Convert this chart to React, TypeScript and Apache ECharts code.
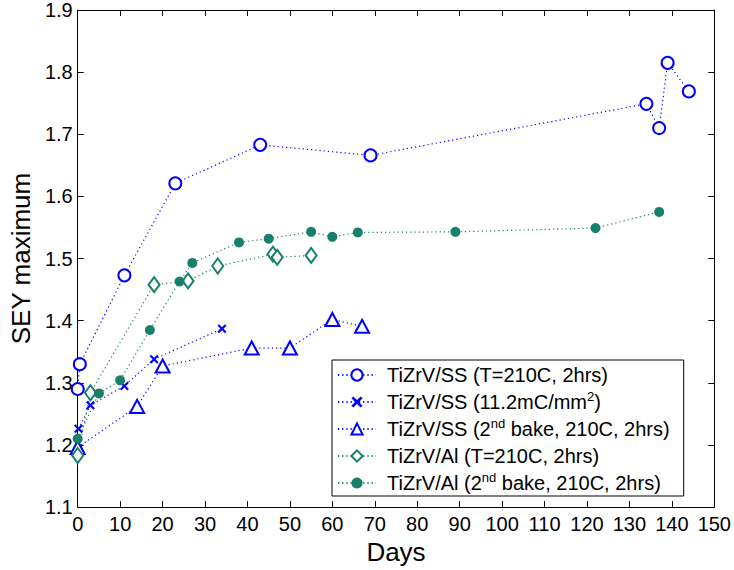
import React, { useEffect, useRef } from "react";
import * as echarts from "echarts";

// ---- data ----
const names = [
  "TiZrV/SS (T=210C, 2hrs)",
  "TiZrV/SS (11.2mC/mm2)",
  "TiZrV/SS (2nd bake, 210C, 2hrs)",
  "TiZrV/Al (T=210C, 2hrs)",
  "TiZrV/Al (2nd bake, 210C, 2hrs)",
];
const days1 = [0, 0.5, 11, 23, 43, 69, 134, 137, 139, 144];
const sey1 = [1.29, 1.33, 1.473, 1.621, 1.683, 1.666, 1.749, 1.71, 1.815, 1.769];
const days2 = [0.2, 3, 11, 18, 34];
const sey2 = [1.226, 1.264, 1.295, 1.338, 1.387];
const days3 = [0, 14, 20, 41, 50, 60, 67];
const sey3 = [1.196, 1.262, 1.327, 1.356, 1.356, 1.402, 1.391];
const days4 = [0, 3, 18, 26, 33, 46, 47, 55];
const sey4 = [1.183, 1.284, 1.458, 1.464, 1.488, 1.507, 1.502, 1.505];
const days5 = [0, 5, 10, 17, 24, 27, 38, 45, 55, 60, 66, 89, 122, 137];
const sey5 = [1.21, 1.283, 1.304, 1.385, 1.463, 1.493, 1.526, 1.532, 1.543, 1.535, 1.542, 1.543, 1.549, 1.575];

const BLUE = "#0000ff";
const GREEN = "#17806a";
const FONT = "'Liberation Sans', Arial, Helvetica, sans-serif";
const X_PATH =
  "path://M0,1.7 L1.7,0 L5,3.3 L8.3,0 L10,1.7 L6.7,5 L10,8.3 L8.3,10 L5,6.7 L1.7,10 L0,8.3 L3.3,5 Z";

const pairs = (xs: number[], ys: number[]) => xs.map((x, i) => [x, ys[i]]);

export default function App() {
  const ref = useRef<HTMLDivElement>(null);
  useEffect(() => {
    if (!ref.current) return;
    const chart = echarts.init(ref.current, null, { renderer: "svg" });
    const lineBase = (color: string) => ({
      type: "line" as const,
      lineStyle: { color, width: 1.2, type: [1.2, 3] as any },
      z: 2,
    });
    const axisCommon = {
      axisLine: { show: true, onZero: false, lineStyle: { color: "#000", width: 1 } },
      axisTick: { show: true, inside: true, length: 6, lineStyle: { color: "#000" } },
      splitLine: { show: false },
    };
    chart.setOption({
      animation: false,
      backgroundColor: "#fff",
      grid: { left: 76, right: 16, top: 10, bottom: 54, containLabel: false },
      xAxis: [
        {
          type: "value",
          min: 0,
          max: 150,
          interval: 10,
          position: "bottom",
          name: "Days",
          nameLocation: "middle",
          nameGap: 25,
          nameTextStyle: { fontSize: 26, color: "#000", fontFamily: FONT },
          axisLabel: { fontSize: 20, color: "#000", margin: 7, fontFamily: FONT },
          ...axisCommon,
        },
        {
          type: "value",
          min: 0,
          max: 150,
          interval: 10,
          position: "top",
          axisLabel: { show: false },
          ...axisCommon,
        },
      ],
      yAxis: [
        {
          type: "value",
          min: 1.1,
          max: 1.9,
          interval: 0.1,
          position: "left",
          name: "SEY maximum",
          nameLocation: "middle",
          nameGap: 41,
          nameTextStyle: { fontSize: 26, color: "#000", fontFamily: FONT },
          axisLabel: {
            fontSize: 20,
            color: "#000",
            margin: 5,
            fontFamily: FONT,
            formatter: (v: number) => v.toFixed(1),
          },
          ...axisCommon,
        },
        {
          type: "value",
          min: 1.1,
          max: 1.9,
          interval: 0.1,
          position: "right",
          axisLabel: { show: false },
          ...axisCommon,
        },
      ],
      legend: {
        orient: "vertical",
        left: 332,
        top: 360,
        backgroundColor: "#fff",
        borderColor: "#000",
        borderWidth: 1,
        borderRadius: 0,
        padding: [3, 14, 1, 5],
        itemWidth: 38,
        itemHeight: 14,
        itemGap: 3,
        data: names,
        formatter: (n: string) => n.replace("2nd", "2{sup|nd}").replace("mm2", "mm{sup|2}"),
        textStyle: {
          fontSize: 20,
          color: "#000",
          fontFamily: FONT,
          lineHeight: 24,
          padding: [0, 0, 0, 6],
          rich: {
            sup: { fontSize: 13, lineHeight: 13, verticalAlign: "top", color: "#000", fontFamily: FONT },
          },
        },
      },
      series: [
        {
          ...lineBase(BLUE),
          name: names[0],
          data: pairs(days1, sey1),
          symbol: "emptyCircle",
          symbolSize: 12,
          itemStyle: { color: BLUE, borderColor: BLUE, borderWidth: 3 },
        },
        {
          ...lineBase(BLUE),
          name: names[1],
          data: pairs(days2, sey2),
          symbol: X_PATH,
          symbolSize: 9,
          itemStyle: { color: BLUE },
        },
        {
          ...lineBase(BLUE),
          name: names[2],
          data: pairs(days3, sey3),
          symbol: "emptyTriangle",
          symbolSize: [14, 13],
          itemStyle: { color: BLUE, borderColor: BLUE, borderWidth: 3 },
        },
        {
          ...lineBase(GREEN),
          name: names[3],
          data: pairs(days4, sey4),
          symbol: "emptyDiamond",
          symbolSize: [11, 15],
          itemStyle: { color: GREEN, borderColor: GREEN, borderWidth: 2.7 },
        },
        {
          ...lineBase(GREEN),
          name: names[4],
          data: pairs(days5, sey5),
          symbol: "circle",
          symbolSize: 10,
          itemStyle: { color: GREEN },
        },
      ],
    });
    return () => chart.dispose();
  }, []);
  return (
    <div
      ref={ref}
      style={{ position: "fixed", left: 0, top: 0, width: 734, height: 570, background: "#fff" }}
    />
  );
}
